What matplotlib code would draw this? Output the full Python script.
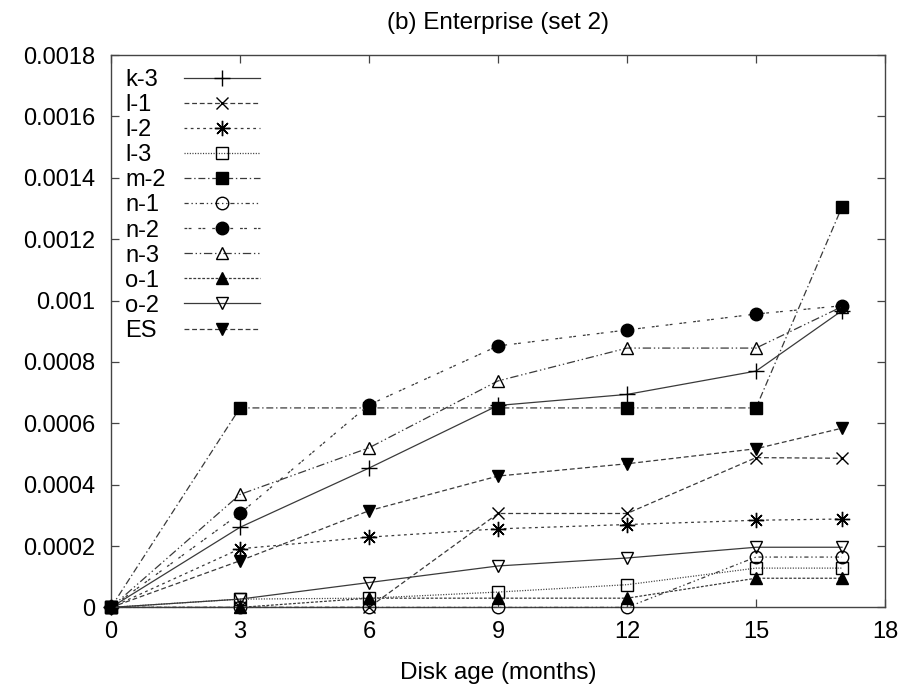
import matplotlib
matplotlib.use("Agg")
import matplotlib.pyplot as plt
import numpy as np

plt.rcParams['font.family'] = ['Liberation Sans', 'DejaVu Sans']
plt.rcParams['lines.scale_dashes'] = False

# ---- data ----
months = [0, 3, 6, 9, 12, 15, 17]
series_names = ["k-3", "l-1", "l-2", "l-3", "m-2", "n-1", "n-2", "n-3", "o-1", "o-2", "ES"]
k3 = [0, 0.000261, 0.000454, 0.000658, 0.000694, 0.000770, 0.000967]
l1 = [0, 0, 0, 0.000306, 0.000306, 0.000488, 0.000486]
l2 = [0, 0.000191, 0.000229, 0.000256, 0.000270, 0.000284, 0.000288]
l3 = [0, 0.000027, 0.000030, 0.000050, 0.000074, 0.000128, 0.000128]
m2 = [0, 0.000650, 0.000650, 0.000650, 0.000650, 0.000650, 0.001305]
n1 = [0, 0, 0, 0, 0, 0.000164, 0.000164]
n2 = [0, 0.000306, 0.000660, 0.000852, 0.000904, 0.000956, 0.000983]
n3 = [0, 0.000368, 0.000520, 0.000738, 0.000845, 0.000845, 0.000980]
o1 = [0, 0, 0.000030, 0.000030, 0.000030, 0.000095, 0.000095]
o2 = [0, 0.000027, 0.000081, 0.000135, 0.000161, 0.000196, 0.000196]
es = [0, 0.000152, 0.000315, 0.000428, 0.000468, 0.000517, 0.000584]
series_values = [k3, l1, l2, l3, m2, n1, n2, n3, o1, o2, es]

x_ticks = [0, 3, 6, 9, 12, 15, 18]
y_ticks = [0, 0.0002, 0.0004, 0.0006, 0.0008, 0.001, 0.0012, 0.0014, 0.0016, 0.0018]
y_tick_labels = ["0", "0.0002", "0.0004", "0.0006", "0.0008", "0.001", "0.0012", "0.0014", "0.0016", "0.0018"]
title = "(b) Enterprise (set 2)"
x_label = "Disk age (months)"

# ---- styles ----
styles = [
    dict(ls='-', marker='+', ms=11, mfc='black'),
    dict(ls=(0, (3.5, 2.0)), marker='x', ms=8.5, mfc='black'),
    dict(ls=(0, (2.0, 2.5)), marker=(8, 2, 0), ms=11, mfc='black'),
    dict(ls=(0, (0.8, 1.1)), marker='s', ms=8.5, mfc='none'),
    dict(ls=(0, (5, 2, 1, 2)), marker='s', ms=8.5, mfc='black'),
    dict(ls=(0, (3, 2, 1, 2, 1, 2)), marker='o', ms=9, mfc='none'),
    dict(ls=(0, (2, 1, 2, 5)), marker='o', ms=9, mfc='black'),
    dict(ls=(0, (6, 2, 1, 2, 1, 2)), marker='^', ms=9, mfc='none'),
    dict(ls=(0, (2.0, 1.2)), marker='^', ms=9, mfc='black'),
    dict(ls='-', marker='v', ms=9, mfc='none'),
    dict(ls=(0, (3.5, 2.0)), marker='v', ms=9, mfc='black'),
]

fig = plt.figure(figsize=(9.08, 6.91), dpi=100)
ax = fig.add_axes([111 / 908, 1 - 607.4 / 691, 774 / 908, 552.4 / 691])

line_color = '#3a3a3a'
lines = []
for i, (name, vals, st) in enumerate(zip(series_names, series_values, styles)):
    ln, = ax.plot(months, vals, linestyle=st['ls'], color=line_color, lw=0.9,
                  marker=st['marker'], ms=st['ms'], mfc=st['mfc'], mec='black',
                  mew=1.0, label=name, zorder=2 + i, clip_on=False)
    lines.append(ln)

ax.set_xlim(0, 18)
ax.set_ylim(0, 0.0018)
ax.set_xticks(x_ticks)
ax.set_xticklabels([str(t) for t in x_ticks])
ax.set_yticks(y_ticks)
ax.set_yticklabels(y_tick_labels)
ax.tick_params(direction='in', length=6, width=0.9, color='#444444',
               top=True, right=True, labelsize=17, labelcolor='black')
ax.tick_params(axis='x', pad=10)
ax.tick_params(axis='y', pad=11.5)
for sp in ax.spines.values():
    sp.set_color('#444444')
    sp.set_linewidth(1.0)

ax.set_title(title, fontsize=17.5, pad=19)
ax.set_xlabel(x_label, fontsize=17.5, labelpad=13.5)

# legend: labels (left aligned) and line samples as two aligned legends
common = dict(loc='upper left', frameon=False, fontsize=17, borderaxespad=0,
              borderpad=0, labelspacing=0.13)
leg_text = ax.legend(lines, series_names, bbox_to_anchor=(0.0185, 0.9745),
                     handlelength=0, handletextpad=0, **common)
for h in leg_text.legend_handles:
    h.set_visible(False)
ax.add_artist(leg_text)
leg_lines = ax.legend(lines, series_names, bbox_to_anchor=(0.0943, 0.9745),
                      handlelength=3.2, handletextpad=0, **common)
for t in leg_lines.get_texts():
    t.set_alpha(0)

fig.savefig("out.png", dpi=100)
